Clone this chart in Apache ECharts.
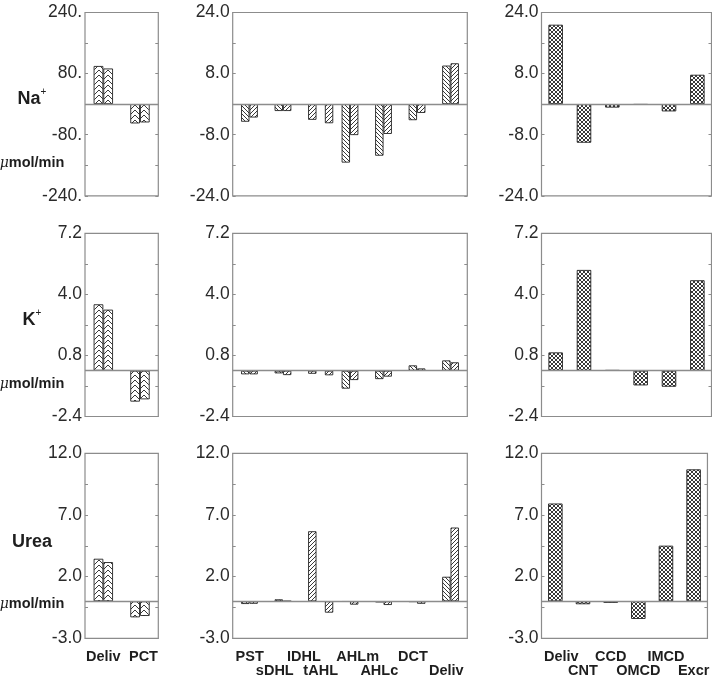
<!DOCTYPE html>
<html><head><meta charset="utf-8">
<script src="https://cdn.jsdelivr.net/npm/echarts@6/dist/echarts.min.js"></script>
<style>html,body{margin:0;padding:0;background:#fff}#c{width:712px;height:681px}</style>
</head><body><div id="c"></div>
<script>
// ---------- data ----------
const pctCats = ['Deliv', 'PCT'];
const naPctSN = [100, -50.5];
const naPctLN = [93.4, -47.9];
const kPctSN = [3.48, -1.62];
const kPctLN = [3.2, -1.5];
const ureaPctSN = [3.45, -1.3];
const ureaPctLN = [3.18, -1.19];

const loopCats = ['PST', 'sDHL', 'IDHL', 'tAHL', 'AHLm', 'AHLc', 'DCT', 'Deliv'];
const naLoopSN = [-4.6, -1.8, null, null, -15.3, -13.5, -4.2, 10.1];
const naLoopLN = [-3.5, -1.8, -4.1, -5.0, -8.1, -7.8, -2.3, 10.7];
const kLoopSN = [-0.19, -0.14, null, null, -0.94, -0.44, 0.28, 0.54];
const kLoopLN = [-0.19, -0.23, -0.16, -0.24, -0.49, -0.31, 0.12, 0.44];
const ureaLoopSN = [-0.22, 0.16, null, null, -0.03, -0.08, -0.05, 1.99];
const ureaLoopLN = [-0.2, 0.02, 5.68, -0.92, -0.27, -0.3, -0.2, 5.98];

const cdCats = ['Deliv', 'CNT', 'CCD', 'OMCD', 'IMCD', 'Excr'];
const naCD = [20.8, -10.1, -0.9, -0.15, -1.9, 7.7];
const kCD = [0.96, 5.28, 0.03, -0.77, -0.84, 4.74];
const ureaCD = [7.93, -0.24, -0.13, -1.43, 4.51, 10.7];

const naWideTicks = [-240, -160, -80, 0, 80, 160, 240];
const naWideLabels = [-240, -80, 80, 240];
const naTicks = [-24, -16, -8, 0, 8, 16, 24];
const naLabels = [-24, -8, 8, 24];
const kTicks = [-2.4, -0.8, 0.8, 2.4, 4.0, 5.6, 7.2];
const kLabels = [-2.4, 0.8, 4.0, 7.2];
const ureaTicks = [-3, -0.5, 2, 4.5, 7, 9.5, 12];
const ureaLabels = [-3, 2, 7, 12];

const rowTitles = ['Na', 'K', 'Urea'];
const rowSup = ['+', '+', ''];
const unitText = 'mol/min';

// ---------- layout (not data) ----------
const SLOTS = 28;
const snSlot = [1, 5, null, null, 13, 17, 21, 25];
const lnSlot = [2, 6, 9, 11, 14, 18, 22, 26];
const labelSlot = [2, 5, 8, 10, 14, 17, 21, 25];
const labelShift = ['a', 'a', '', '', 'b', '', '', ''];
const pctShift = ['', 'b'];
const cdShift = ['c', '', '', '', '', ''];

const colLeft = [85, 232.7, 541.5];
const colWidth = [73.3, 234.6, 170];
const rowTop = [12.5, 233.3, 453.3];
const rowHeight = [183.3, 183.2, 185];

function spread(vals, slots) {
  const arr = new Array(SLOTS).fill(null);
  vals.forEach((v, i) => { if (slots[i] != null && v != null) arr[slots[i]] = v; });
  return arr;
}
const loopAxisNames = new Array(SLOTS).fill('');
const loopAxisRow = new Array(SLOTS).fill(0);
const loopAxisShift = new Array(SLOTS).fill('');
loopCats.forEach((n, i) => { loopAxisNames[labelSlot[i]] = n; loopAxisRow[labelSlot[i]] = i % 2; loopAxisShift[labelSlot[i]] = labelShift[i]; });

// ---------- patterns ----------
function pattern(kind) {
  const c = document.createElement('canvas');
  let w = 4, h = 4;
  if (kind === 'chev') { w = 9; h = 5; }
  c.width = w; c.height = h;
  const g = c.getContext('2d');
  g.fillStyle = '#fff'; g.fillRect(0, 0, w, h);
  g.strokeStyle = '#222'; g.lineWidth = 0.9;
  g.beginPath();
  if (kind === 'back' || kind === 'cross') {
    g.moveTo(-1, -1); g.lineTo(w + 1, h + 1);
    g.moveTo(-1, h - 1); g.lineTo(1, h + 1);
    g.moveTo(w - 1, -1); g.lineTo(w + 1, 1);
  }
  if (kind === 'fwd' || kind === 'cross') {
    g.moveTo(-1, h + 1); g.lineTo(w + 1, -1);
    g.moveTo(-1, 1); g.lineTo(1, -1);
    g.moveTo(w - 1, h + 1); g.lineTo(w + 1, h - 1);
  }
  if (kind === 'chev') {
    for (let y0 = -15; y0 <= 10; y0 += h) {
      g.moveTo(0, y0); g.lineTo(w / 2, y0 + w / 2); g.lineTo(w, y0);
    }
  }
  g.stroke();
  return { image: c, repeat: 'repeat' };
}
const patChev = pattern('chev');
const patBack = pattern('back');
const patFwd = pattern('fwd');
const patCross = pattern('cross');

// ---------- build ----------
const grids = [], xAxes = [], yAxes = [], series = [];
const f1 = v => Number(v).toFixed(1);
const rows = [
  { pct: [naPctSN, naPctLN], loop: [naLoopSN, naLoopLN], cd: naCD,
    scales: [[naWideTicks, naWideLabels, v => v + '.'], [naTicks, naLabels, f1], [naTicks, naLabels, f1]] },
  { pct: [kPctSN, kPctLN], loop: [kLoopSN, kLoopLN], cd: kCD,
    scales: [[kTicks, kLabels, f1], [kTicks, kLabels, f1], [kTicks, kLabels, f1]] },
  { pct: [ureaPctSN, ureaPctLN], loop: [ureaLoopSN, ureaLoopLN], cd: ureaCD,
    scales: [[ureaTicks, ureaLabels, f1], [ureaTicks, ureaLabels, f1], [ureaTicks, ureaLabels, f1]] }
];
const frameColor = '#8c8c8c';
const txt = '#1e1e1e';
const barBorder = { borderColor: '#222', borderWidth: 0.9 };
const zeroLine = {
  silent: true, symbol: 'none', label: { show: false },
  lineStyle: { color: frameColor, width: 1.3, type: 'solid' },
  emphasis: { disabled: true },
  data: [{ yAxis: 0 }]
};
const xLabelBase = { fontFamily: 'Liberation Sans, Arial, sans-serif', fontWeight: 'bold', fontSize: 14.5, color: txt, lineHeight: 14.5 };
const richShift = {
  n: Object.assign({}, xLabelBase),
  a: Object.assign({ padding: [0, 8, 0, 0] }, xLabelBase),
  b: Object.assign({ padding: [0, 0, 0, 7] }, xLabelBase),
  c: Object.assign({ padding: [0, 0, 0, 12] }, xLabelBase)
};

rows.forEach((row, r) => {
  for (let c = 0; c < 3; c++) {
    const gi = r * 3 + c;
    grids.push({ left: colLeft[c], top: rowTop[r], width: colWidth[c], height: rowHeight[r],
      show: true, borderColor: frameColor, borderWidth: 1.2, backgroundColor: 'transparent' });
    const showX = r === 2;
    let xa = { type: 'category', gridIndex: gi, axisLine: { show: false }, axisTick: { show: false }, splitLine: { show: false } };
    if (c === 0) {
      xa.data = pctCats;
      xa.axisLabel = Object.assign({ show: showX, interval: 0, margin: 11,
        formatter: (v, i) => '{' + (pctShift[i] || 'n') + '|' + v + '}', rich: richShift }, xLabelBase);
    } else if (c === 1) {
      xa.data = loopAxisNames;
      xa.axisLabel = Object.assign({ show: showX, interval: 0, margin: 11,
        formatter: (v, i) => {
          if (!v) return '';
          const s = loopAxisShift[i] || 'n';
          return (loopAxisRow[i] ? '\n' : '') + '{' + s + '|' + v + '}';
        },
        rich: richShift }, xLabelBase);
    } else {
      xa.data = cdCats;
      xa.axisLabel = Object.assign({ show: showX, interval: 0, margin: 11,
        formatter: (v, i) => (i % 2 ? '\n' : '') + '{' + (cdShift[i] || 'n') + '|' + v + '}', rich: richShift }, xLabelBase);
    }
    xAxes.push(xa);
    const [ticks, labels, fmt] = row.scales[c];
    const mn = ticks[0], mx = ticks[ticks.length - 1];
    yAxes.push({ type: 'value', gridIndex: gi, position: 'left', min: mn, max: mx,
      axisLine: { show: false }, splitLine: { show: false },
      axisTick: { show: true, inside: true, length: 3, customValues: ticks, lineStyle: { color: frameColor, width: 1 } },
      axisLabel: { show: true, customValues: labels, formatter: fmt, margin: 3,
        fontFamily: 'Liberation Sans, Arial, sans-serif', fontSize: 17.5, color: '#2a2a2a' } });
    yAxes.push({ type: 'value', gridIndex: gi, position: 'right', min: mn, max: mx,
      axisLine: { show: false }, splitLine: { show: false },
      axisTick: { show: true, inside: true, length: 3, customValues: ticks, lineStyle: { color: frameColor, width: 1 } },
      axisLabel: { show: false } });
    const yi = gi * 2;
    if (c === 0) {
      series.push({ type: 'bar', xAxisIndex: gi, yAxisIndex: yi, data: row.pct[0], barWidth: 9.7, barGap: '0%',
        itemStyle: Object.assign({ color: patChev }, barBorder), markLine: zeroLine, silent: true });
      series.push({ type: 'bar', xAxisIndex: gi, yAxisIndex: yi, data: row.pct[1], barWidth: 9.7, barGap: '0%',
        itemStyle: Object.assign({ color: patChev }, barBorder), silent: true });
    } else if (c === 1) {
      series.push({ type: 'bar', xAxisIndex: gi, yAxisIndex: yi, data: spread(row.loop[0], snSlot), barCategoryGap: '0%', barGap: '-100%',
        itemStyle: Object.assign({ color: patBack }, barBorder), markLine: zeroLine, silent: true });
      series.push({ type: 'bar', xAxisIndex: gi, yAxisIndex: yi, data: spread(row.loop[1], lnSlot), barCategoryGap: '0%', barGap: '-100%',
        itemStyle: Object.assign({ color: patFwd }, barBorder), silent: true });
    } else {
      series.push({ type: 'bar', xAxisIndex: gi, yAxisIndex: yi, data: row.cd, barWidth: 14.5,
        itemStyle: Object.assign({ color: patCross }, barBorder), markLine: zeroLine, silent: true });
    }
  }
});

// row titles (text)
const titleY = [99, 320, 542];
const unitY = [163, 384, 604];
const graphic = [];
rows.forEach((row, r) => {
  graphic.push({ type: 'text', x: 32, y: titleY[r],
    style: { text: '{b|' + rowTitles[r] + '}' + (rowSup[r] ? '{s|' + rowSup[r] + '}' : ''),
      align: 'center', verticalAlign: 'middle',
      rich: { b: { fontFamily: 'Liberation Sans, Arial, sans-serif', fontWeight: 'bold', fontSize: 18, fill: txt, lineHeight: 20 },
              s: { fontFamily: 'Liberation Sans, Arial, sans-serif', fontSize: 10, fill: txt, lineHeight: 20, padding: [0, 0, 14, 0] } } } });
  graphic.push({ type: 'text', x: 32, y: unitY[r],
    style: { text: '{m|\u03bc}{u|' + unitText + '}', align: 'center', verticalAlign: 'middle',
      rich: { m: { fontFamily: 'DejaVu Serif, serif', fontStyle: 'italic', fontSize: 14, fill: txt },
              u: { fontFamily: 'Liberation Sans, Arial, sans-serif', fontWeight: 'bold', fontSize: 14.5, fill: txt } } } });
});

const chart = echarts.init(document.getElementById('c'));
chart.setOption({ animation: false, backgroundColor: '#fff', grid: grids, xAxis: xAxes, yAxis: yAxes, series: series, graphic: graphic });
</script></body></html>
